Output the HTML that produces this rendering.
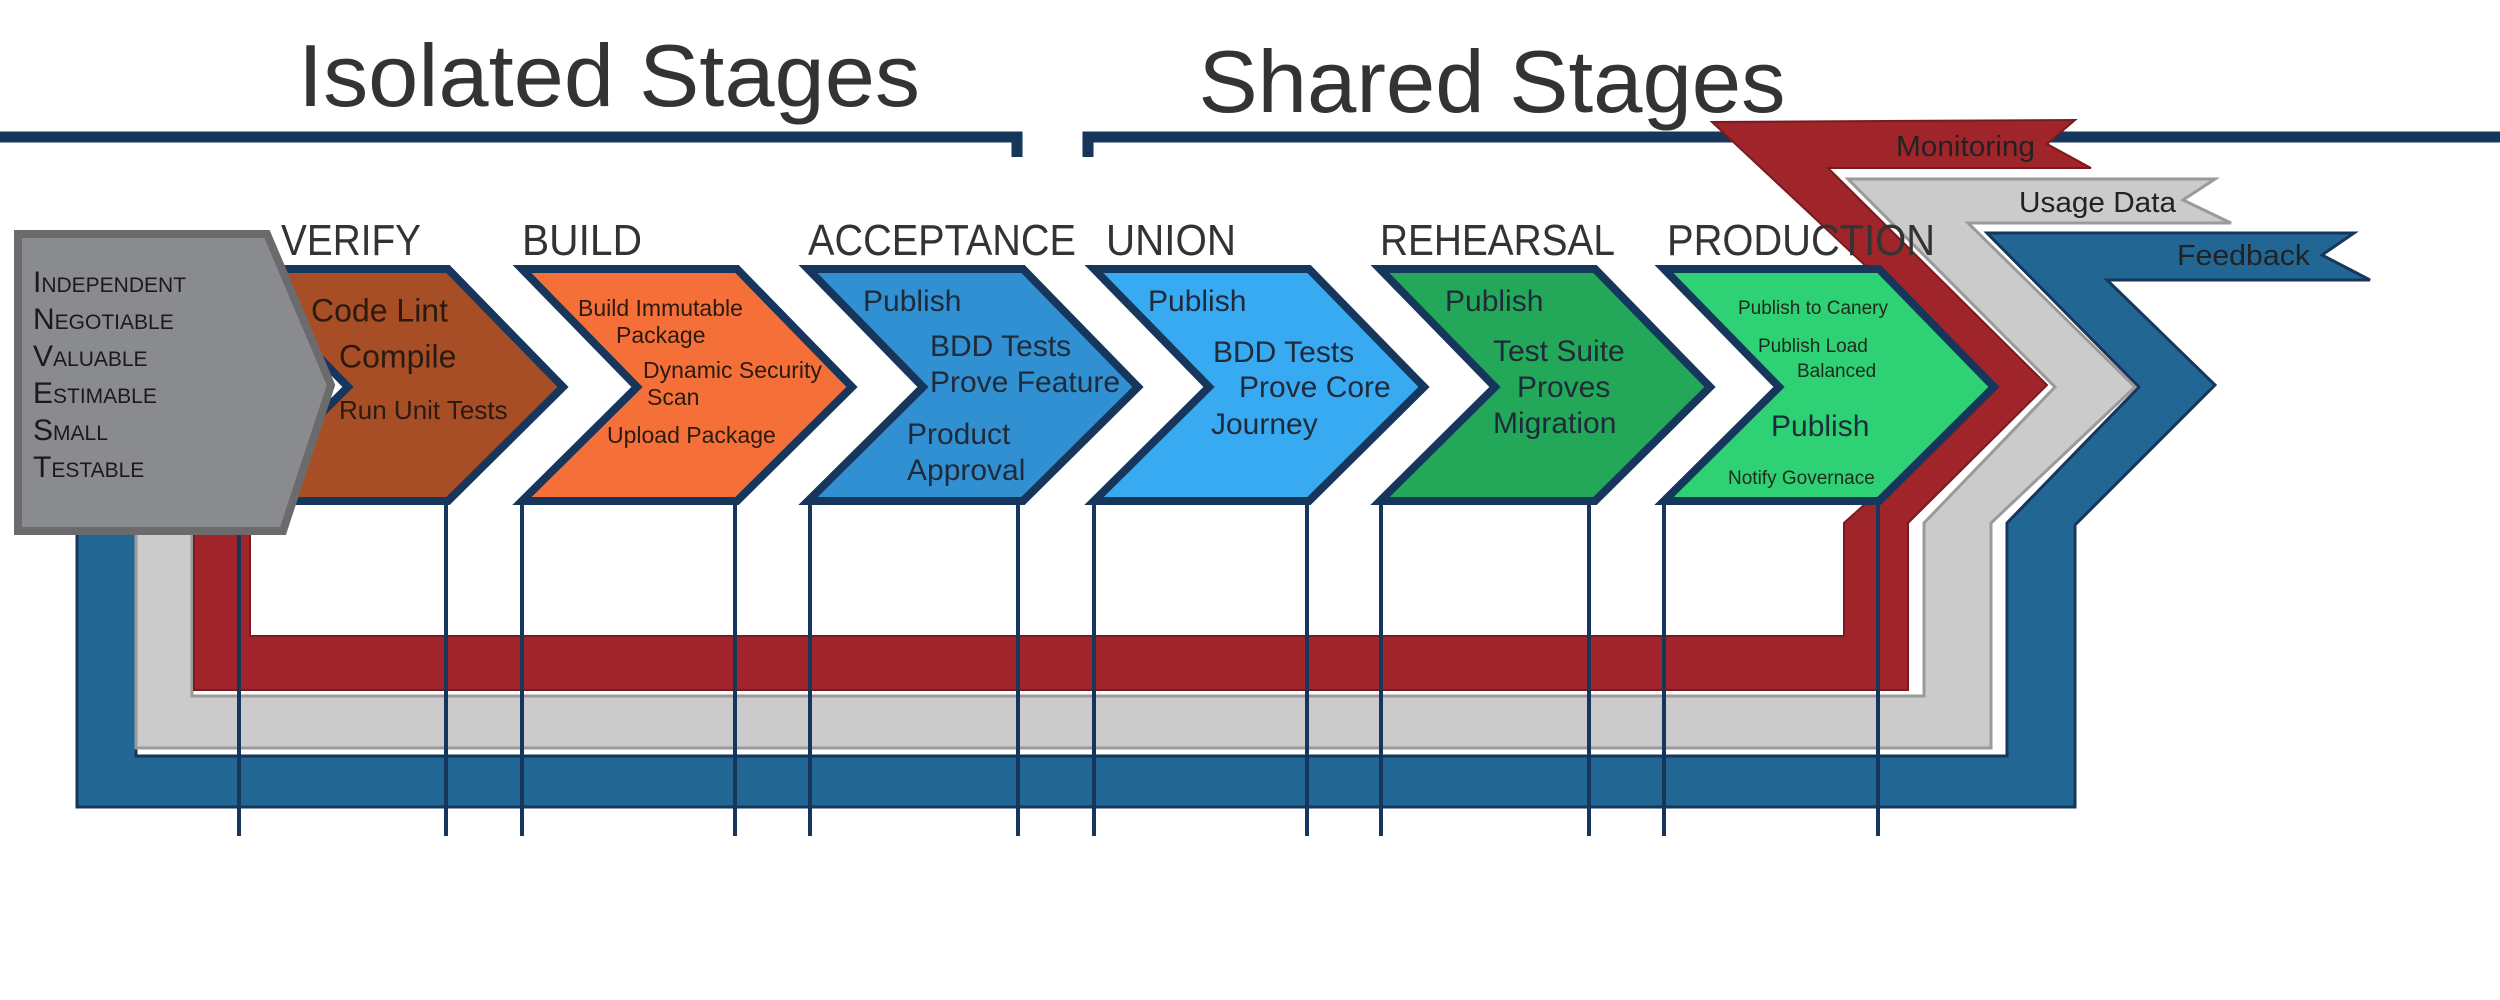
<!DOCTYPE html>
<html><head><meta charset="utf-8"><style>
html,body{margin:0;padding:0;background:#fff;}
svg{display:block;}
text{font-family:"Liberation Sans",sans-serif;}
</style></head><body>
<svg width="2500" height="1000" viewBox="0 0 2500 1000" xmlns="http://www.w3.org/2000/svg">
<rect width="2500" height="1000" fill="#fff"/>
<!-- titles -->
<text x="609" y="106" font-size="88" fill="#333" text-anchor="middle" textLength="622" lengthAdjust="spacingAndGlyphs">Isolated Stages</text>
<text x="1492" y="112" font-size="88" fill="#333" text-anchor="middle" textLength="587" lengthAdjust="spacingAndGlyphs">Shared Stages</text>
<!-- top lines -->
<path d="M0 137 H1017 V157" fill="none" stroke="#16365c" stroke-width="11"/>
<path d="M1088 157 V137 H2500" fill="none" stroke="#16365c" stroke-width="11"/>
<!-- feedback bands -->
<polygon points="77,531 77,807 2075,807 2075,525 2215,385 2107,280 2370,280 2322,255 2354,233 1987,233 2139,387 2007,523 2007,756 136,756 136,531" fill="#226694" stroke="#16365c" stroke-width="3"/>
<polygon points="136,531 136,748 1991,748 1991,523 2135,387 1968,223 2231,223 2183,200 2215,179 1848,179 2055,387 1924,523 1924,696 192,696 192,531" fill="#cbcbcb" stroke="#9a9a9a" stroke-width="3"/>
<polygon points="194,531 194,690 1908,690 1908,523 2047,385 1828,168 2091,168 2047,144 2075,120 1712,122 1995,387 1844,523 1844,636 250,636 250,531" fill="#a0252a" stroke="#7a1a1e" stroke-width="2"/>
<text x="1896" y="156" font-size="29" fill="#222" textLength="139" lengthAdjust="spacingAndGlyphs">Monitoring</text>
<text x="2019" y="212" font-size="29" fill="#222" textLength="157" lengthAdjust="spacingAndGlyphs">Usage Data</text>
<text x="2177" y="265" font-size="29" fill="#222" textLength="133" lengthAdjust="spacingAndGlyphs">Feedback</text>
<!-- chevrons -->
<g stroke="#16365c" stroke-width="8" stroke-linejoin="miter">
<polygon points="233,269 448,269 563,387 448,501 233,501 348,387" fill="#a84e27"/>
<polygon points="522,269 737,269 852,387 737,501 522,501 637,387" fill="#f57038"/>
<polygon points="808,269 1023,269 1138,387 1023,501 808,501 923,387" fill="#3190d1"/>
<polygon points="1094,269 1309,269 1424,387 1309,501 1094,501 1209,387" fill="#38aaf2"/>
<polygon points="1380,269 1595,269 1710,387 1595,501 1380,501 1495,387" fill="#23a85a"/>
<polygon points="1664,269 1879,269 1994,387 1879,501 1664,501 1779,387" fill="#2ed173"/>
</g>
<!-- vertical lines -->
<g stroke="#16365c" stroke-width="4">
<line x1="239" y1="501" x2="239" y2="836"/><line x1="446" y1="501" x2="446" y2="836"/>
<line x1="522" y1="501" x2="522" y2="836"/><line x1="735" y1="501" x2="735" y2="836"/>
<line x1="810" y1="501" x2="810" y2="836"/><line x1="1018" y1="501" x2="1018" y2="836"/>
<line x1="1094" y1="501" x2="1094" y2="836"/><line x1="1307" y1="501" x2="1307" y2="836"/>
<line x1="1381" y1="501" x2="1381" y2="836"/><line x1="1589" y1="501" x2="1589" y2="836"/>
<line x1="1664" y1="501" x2="1664" y2="836"/><line x1="1878" y1="501" x2="1878" y2="836"/>
</g>
<!-- gray box -->
<polygon points="18,234 267,234 331,385 283,531 18,531" fill="#8a8b8e" stroke="#6b6b6d" stroke-width="8"/>
<g font-size="30" fill="#1a1a1a" style="font-variant:small-caps">
<text x="33" y="292">Independent</text>
<text x="33" y="329">Negotiable</text>
<text x="33" y="366">Valuable</text>
<text x="33" y="403">Estimable</text>
<text x="33" y="440">Small</text>
<text x="33" y="477">Testable</text>
</g>
<!-- stage labels -->
<g font-size="44" fill="#333">
<text x="281" y="255" textLength="140" lengthAdjust="spacingAndGlyphs">VERIFY</text>
<text x="522" y="255" textLength="120" lengthAdjust="spacingAndGlyphs">BUILD</text>
<text x="808" y="255" textLength="268" lengthAdjust="spacingAndGlyphs">ACCEPTANCE</text>
<text x="1106" y="255" textLength="130" lengthAdjust="spacingAndGlyphs">UNION</text>
<text x="1380" y="255" textLength="235" lengthAdjust="spacingAndGlyphs">REHEARSAL</text>
<text x="1667" y="255" textLength="268" lengthAdjust="spacingAndGlyphs">PRODUCTION</text>
</g>
<!-- chevron text -->
<g fill="#2a1a10" dominant-baseline="middle">
<text x="311" y="313" font-size="32">Code Lint</text>
<text x="339" y="359" font-size="32">Compile</text>
<text x="339" y="412" font-size="26">Run Unit Tests</text>
<text x="578" y="310" font-size="23">Build Immutable</text>
<text x="616" y="337" font-size="23">Package</text>
<text x="643" y="372" font-size="23">Dynamic Security</text>
<text x="647" y="399" font-size="23">Scan</text>
<text x="607" y="437" font-size="23">Upload Package</text>
</g>
<g fill="#1f2a3a" dominant-baseline="middle" font-size="30">
<text x="863" y="303">Publish</text>
<text x="930" y="348">BDD Tests</text>
<text x="930" y="384">Prove Feature</text>
<text x="907" y="436">Product</text>
<text x="907" y="472">Approval</text>
<text x="1148" y="303">Publish</text>
<text x="1213" y="354">BDD Tests</text>
<text x="1239" y="389">Prove Core</text>
<text x="1211" y="426">Journey</text>
<text x="1445" y="303">Publish</text>
<text x="1493" y="353">Test Suite</text>
<text x="1517" y="389">Proves</text>
<text x="1493" y="425">Migration</text>
<text x="1771" y="428">Publish</text>
</g>
<g fill="#1f2a1f" dominant-baseline="middle" font-size="19">
<text x="1738" y="309">Publish to Canery</text>
<text x="1758" y="347">Publish Load</text>
<text x="1797" y="372">Balanced</text>
<text x="1728" y="479">Notify Governace</text>
</g>
</svg>
</body></html>
